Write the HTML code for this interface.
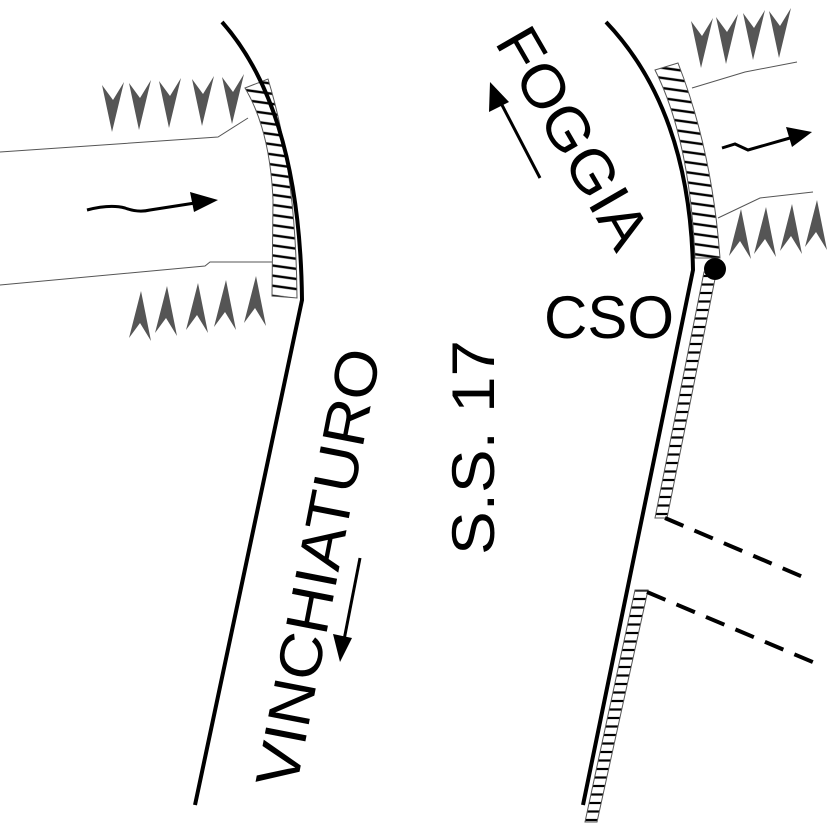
<!DOCTYPE html>
<html><head><style>html,body{margin:0;padding:0;background:#fff}svg{display:block}</style></head>
<body>
<svg width="827" height="827" viewBox="0 0 827 827" xmlns="http://www.w3.org/2000/svg" font-family="Liberation Sans, sans-serif">
<defs>
<pattern id="h" width="10" height="10" patternUnits="userSpaceOnUse" patternTransform="rotate(8)"><rect width="10" height="10" fill="#fff"/><line x1="0" y1="5" x2="10" y2="5" stroke="#000" stroke-width="2.4"/></pattern>
<pattern id="h2" width="10" height="8.5" patternUnits="userSpaceOnUse"><rect width="10" height="8.5" fill="#fff"/><line x1="0" y1="4" x2="10" y2="4" stroke="#000" stroke-width="2.2"/></pattern>
<g id="ad"><polygon points="-11,-1 0,14 11,-4 -1,46" fill="#555"/></g>
<g id="au"><polygon points="-11,1 0,-14 11,4 1,-46" fill="#555"/></g>
</defs>
<!-- LEFT -->
<path d="M0,152 L218,137 L248,118" fill="none" stroke="#555" stroke-width="1"/>
<path d="M0,285 L205,266 L210,262 L272,262" fill="none" stroke="#555" stroke-width="1"/>
<path d="M245,88 L268,79 Q296,170 297,298 L272,296 L273,200 Q270,130 245,88 Z" fill="url(#h)" stroke="#555" stroke-width="1"/>
<path d="M222,22 Q300,110 302,300 L195,805" fill="none" stroke="#000" stroke-width="4"/>
<use href="#ad" x="113" y="86"/><use href="#ad" x="140" y="84"/><use href="#ad" x="170" y="82"/><use href="#ad" x="203" y="80"/><use href="#ad" x="233" y="78"/>
<use href="#au" x="140" y="337"/><use href="#au" x="166" y="332"/><use href="#au" x="197" y="329"/><use href="#au" x="225" y="326"/><use href="#au" x="255" y="322"/>
<path d="M87,210 Q110,204 125,208 Q138,213 150,210 L195,203" fill="none" stroke="#000" stroke-width="3"/>
<polygon points="218,200 190,192 194,212" fill="#000"/>
<!-- RIGHT -->
<path d="M692,88 L745,72 L797,62" fill="none" stroke="#555" stroke-width="1"/>
<path d="M718,218 L760,198 L813,192" fill="none" stroke="#555" stroke-width="1"/>
<path d="M655,70 L678,63 Q712,150 720,258 L695,258 Q690,140 655,70 Z" fill="url(#h)" stroke="#555" stroke-width="1"/>
<path d="M704,272 L716,274 L667,518 L655,518 Z" fill="url(#h2)" stroke="#555" stroke-width="1"/>
<path d="M635,590 L648,590 L597,822 L585,822 Z" fill="url(#h2)" stroke="#555" stroke-width="1"/>
<path d="M606,22 Q690,110 693,270 L583,805" fill="none" stroke="#000" stroke-width="4"/>
<circle cx="715" cy="269" r="11" fill="#000"/>
<use href="#ad" x="702" y="22"/><use href="#ad" x="727" y="18"/><use href="#ad" x="754" y="14"/><use href="#ad" x="780" y="12"/>
<use href="#au" x="740" y="255"/><use href="#au" x="765" y="253"/><use href="#au" x="791" y="250"/><use href="#au" x="816" y="246"/>
<path d="M722,148 L735,144 L748,150 L790,138" fill="none" stroke="#000" stroke-width="3"/>
<polygon points="812,132 786,127 792,147" fill="#000"/>
<path d="M665,518 L810,580" fill="none" stroke="#000" stroke-width="4" stroke-dasharray="20,12"/>
<path d="M647,592 L815,663" fill="none" stroke="#000" stroke-width="4" stroke-dasharray="20,12"/>
<!-- TEXT -->
<text transform="translate(494,42) rotate(60)" font-size="60" textLength="245" lengthAdjust="spacingAndGlyphs">FOGGIA</text>
<line x1="540" y1="178" x2="502" y2="105" stroke="#000" stroke-width="3"/>
<polygon points="490,82 489,112 509,102" fill="#000"/>
<text x="544" y="338" font-size="60">CSO</text>
<text transform="translate(494,555) rotate(-90)" font-size="60" textLength="215" lengthAdjust="spacingAndGlyphs">S.S. 17</text>
<text transform="translate(296,790) rotate(-79)" font-size="60" textLength="445" lengthAdjust="spacingAndGlyphs">VINCHIATURO</text>
<line x1="360" y1="558" x2="344" y2="640" stroke="#000" stroke-width="3"/>
<polygon points="340,662 333,634 352,638" fill="#000"/>
</svg>
</body></html>
